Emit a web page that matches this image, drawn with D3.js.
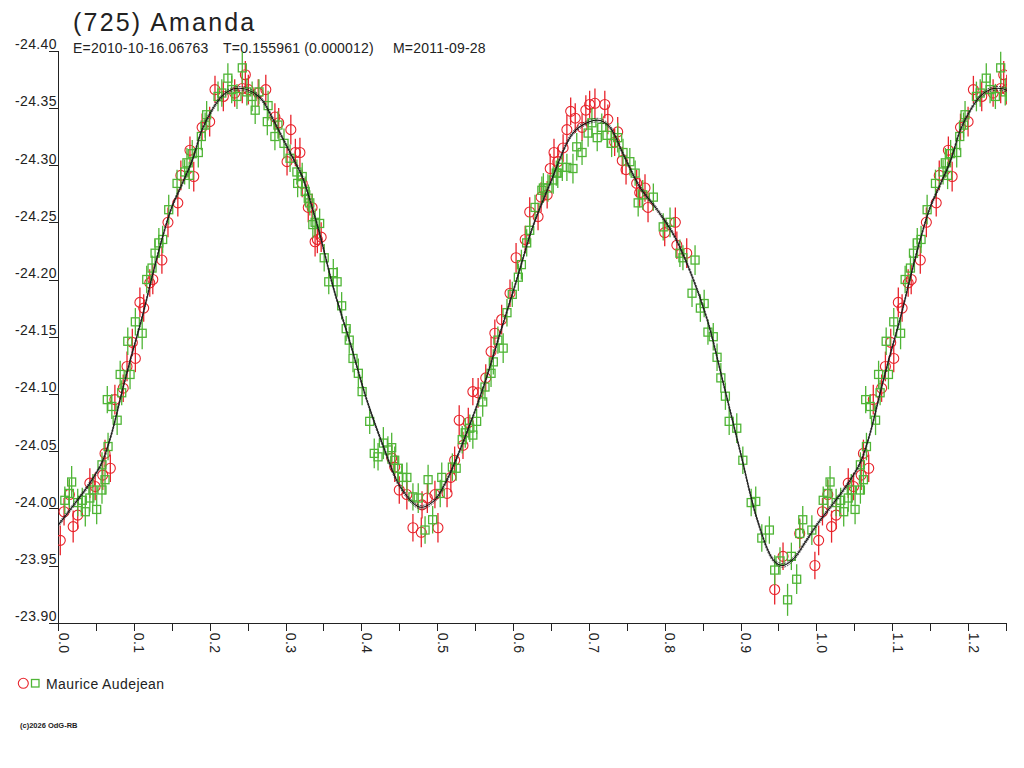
<!DOCTYPE html>
<html>
<head>
<meta charset="utf-8">
<script src="https://cdn.jsdelivr.net/npm/d3@7"></script>
<style>
  body { margin: 0; background: #fff; }
  svg { font-family: "Liberation Sans", Arial, sans-serif; }
</style>
</head>
<body>
<script>
// phase, magnitude, error  -- Maurice Audejean, two sessions (red / green)
const redObs = [
  [0.003,-23.972,.013],[0.008,-23.997,.012],[0.015,-24.012,.013],[0.020,-23.984,.014],[0.026,-23.994,.012],
  [0.042,-24.022,.013],[0.049,-24.019,.012],[0.059,-24.029,.013],[0.062,-24.048,.012],[0.069,-24.035,.012],
  [0.075,-24.095,.013],[0.086,-24.105,.012],[0.091,-24.124,.013],[0.098,-24.145,.012],[0.102,-24.131,.012],
  [0.108,-24.180,.013],[0.113,-24.175,.012],[0.121,-24.197,.012],[0.125,-24.200,.013],[0.137,-24.217,.012],
  [0.145,-24.250,.013],[0.158,-24.267,.012],[0.162,-24.291,.013],[0.174,-24.313,.012],[0.179,-24.290,.013],
  [0.190,-24.333,.012],[0.200,-24.338,.013],[0.207,-24.366,.012],[0.218,-24.360,.013],[0.233,-24.363,.012],
  [0.243,-24.367,.013],[0.247,-24.379,.012],[0.251,-24.366,.013],[0.264,-24.363,.012],[0.274,-24.366,.013],
  [0.286,-24.342,.012],[0.291,-24.337,.013],[0.302,-24.303,.012],[0.307,-24.331,.013],[0.313,-24.311,.012],
  [0.319,-24.311,.013],[0.322,-24.284,.012],[0.330,-24.263,.013],[0.335,-24.263,.012],[0.339,-24.233,.013],
  [0.342,-24.235,.012],[0.347,-24.237,.013],[0.440,-24.044,.012],[0.444,-24.036,.013],[0.450,-24.016,.012],
  [0.460,-24.012,.013],[0.468,-23.983,.012],[0.479,-23.979,.013],[0.480,-24.003,.012],[0.487,-24.009,.013],
  [0.497,-24.012,.012],[0.501,-23.983,.013],[0.513,-24.013,.012],[0.518,-24.027,.013],[0.523,-24.042,.012],
  [0.529,-24.077,.013],[0.534,-24.055,.012],[0.541,-24.075,.013],[0.547,-24.102,.012],[0.554,-24.101,.013],
  [0.564,-24.114,.012],[0.571,-24.137,.013],[0.576,-24.153,.012],[0.585,-24.165,.013],[0.596,-24.188,.012],
  [0.604,-24.219,.013],[0.616,-24.235,.012],[0.622,-24.259,.013],[0.633,-24.255,.012],[0.637,-24.272,.013],
  [0.645,-24.274,.012],[0.649,-24.297,.013],[0.654,-24.311,.012],[0.659,-24.303,.013],[0.666,-24.315,.012],
  [0.671,-24.331,.013],[0.676,-24.347,.012],[0.682,-24.341,.013],[0.691,-24.333,.012],[0.696,-24.348,.013],
  [0.701,-24.353,.012],[0.708,-24.354,.013],[0.721,-24.353,.012],[0.725,-24.340,.013],[0.734,-24.320,.012],
  [0.738,-24.329,.013],[0.744,-24.304,.012],[0.749,-24.296,.013],[0.763,-24.284,.012],[0.767,-24.276,.013],
  [0.774,-24.280,.012],[0.778,-24.263,.013],[0.800,-24.241,.012],[0.814,-24.250,.013],[0.816,-24.230,.012],
  [0.829,-24.223,.013],[0.945,-23.929,.013],[0.956,-23.958,.012],[0.978,-23.978,.013],[0.998,-23.950,.012]
];

const greenObs = [
  [0.009,-24.007,.012],[0.015,-24.013,.013],[0.018,-24.023,.014],[0.026,-24.005,.012],[0.032,-24.007,.011],
  [0.036,-23.997,.013],[0.042,-24.009,.012],[0.046,-24.016,.014],[0.051,-23.999,.013],[0.058,-24.016,.012],
  [0.058,-24.038,.011],[0.062,-24.025,.013],[0.065,-24.095,.012],[0.066,-24.054,.012],[0.071,-24.089,.011],
  [0.078,-24.077,.013],[0.082,-24.117,.012],[0.084,-24.101,.011],[0.092,-24.146,.012],[0.095,-24.117,.013],
  [0.102,-24.163,.012],[0.111,-24.153,.014],[0.117,-24.200,.012],[0.124,-24.210,.011],[0.128,-24.223,.012],
  [0.133,-24.232,.013],[0.138,-24.235,.012],[0.146,-24.261,.013],[0.157,-24.284,.012],[0.167,-24.294,.011],
  [0.170,-24.302,.013],[0.173,-24.291,.012],[0.177,-24.310,.012],[0.185,-24.311,.013],[0.189,-24.325,.012],
  [0.194,-24.335,.011],[0.196,-24.344,.012],[0.211,-24.360,.013],[0.216,-24.363,.012],[0.224,-24.376,.013],
  [0.229,-24.366,.012],[0.236,-24.360,.011],[0.243,-24.385,.014],[0.249,-24.364,.012],[0.256,-24.360,.013],
  [0.260,-24.348,.012],[0.265,-24.364,.011],[0.276,-24.338,.012],[0.277,-24.352,.013],[0.286,-24.325,.012],
  [0.290,-24.335,.012],[0.298,-24.319,.013],[0.306,-24.306,.012],[0.315,-24.294,.011],[0.316,-24.284,.012],
  [0.322,-24.290,.012],[0.326,-24.277,.013],[0.330,-24.271,.012],[0.332,-24.267,.011],[0.336,-24.248,.012],
  [0.339,-24.250,.012],[0.345,-24.249,.013],[0.351,-24.219,.012],[0.357,-24.198,.011],[0.363,-24.206,.012],
  [0.368,-24.198,.013],[0.374,-24.177,.012],[0.380,-24.157,.011],[0.384,-24.147,.012],[0.389,-24.131,.012],
  [0.396,-24.118,.013],[0.401,-24.102,.012],[0.411,-24.076,.011],[0.417,-24.048,.013],[0.422,-24.045,.012],
  [0.429,-24.057,.014],[0.435,-24.051,.012],[0.440,-24.053,.013],[0.444,-24.042,.012],[0.448,-24.035,.011],
  [0.454,-24.027,.012],[0.460,-24.027,.013],[0.468,-24.010,.012],[0.475,-24.009,.013],[0.484,-23.981,.012],
  [0.488,-24.025,.013],[0.494,-23.990,.012],[0.504,-24.013,.012],[0.506,-24.027,.013],[0.520,-24.036,.012],
  [0.525,-24.035,.011],[0.533,-24.060,.012],[0.537,-24.066,.013],[0.543,-24.070,.012],[0.547,-24.064,.012],
  [0.552,-24.076,.011],[0.560,-24.093,.013],[0.563,-24.106,.012],[0.571,-24.118,.012],[0.574,-24.128,.011],
  [0.580,-24.147,.012],[0.587,-24.140,.013],[0.592,-24.171,.012],[0.599,-24.187,.011],[0.607,-24.202,.012],
  [0.611,-24.213,.013],[0.618,-24.232,.012],[0.622,-24.243,.012],[0.629,-24.263,.011],[0.638,-24.278,.012],
  [0.640,-24.280,.013],[0.646,-24.280,.012],[0.653,-24.287,.012],[0.657,-24.293,.011],[0.659,-24.293,.013],
  [0.665,-24.298,.012],[0.671,-24.298,.012],[0.679,-24.297,.013],[0.684,-24.316,.012],[0.691,-24.311,.011],
  [0.699,-24.328,.012],[0.704,-24.337,.013],[0.711,-24.324,.012],[0.717,-24.333,.012],[0.724,-24.326,.011],
  [0.730,-24.319,.012],[0.738,-24.324,.013],[0.745,-24.311,.012],[0.754,-24.303,.012],[0.761,-24.293,.011],
  [0.765,-24.267,.012],[0.771,-24.274,.013],[0.785,-24.272,.012],[0.798,-24.246,.012],[0.807,-24.250,.013],
  [0.820,-24.223,.012],[0.824,-24.219,.011],[0.836,-24.188,.012],[0.840,-24.217,.013],[0.847,-24.175,.012],
  [0.852,-24.179,.012],[0.857,-24.154,.011],[0.864,-24.150,.012],[0.869,-24.132,.012],[0.874,-24.114,.013],
  [0.880,-24.098,.012],[0.885,-24.076,.012],[0.895,-24.070,.013],[0.903,-24.042,.012],[0.914,-24.005,.012],
  [0.920,-24.006,.013],[0.928,-23.974,.012],[0.938,-23.981,.012],[0.945,-23.946,.013],[0.952,-23.954,.012],
  [0.962,-23.920,.014],[0.967,-23.958,.012],[0.974,-23.938,.013],[0.978,-23.978,.012],[0.982,-23.990,.012],
  [0.994,-23.981,.013]
];

// fitted light curve, phase / magnitude
const fitCurve = [
  [0.000,-23.985],[0.022,-24.004],[0.040,-24.020],[0.058,-24.040],[0.071,-24.066],[0.086,-24.106],
  [0.098,-24.136],[0.111,-24.167],[0.124,-24.202],[0.137,-24.235],[0.150,-24.263],[0.164,-24.284],
  [0.177,-24.304],[0.190,-24.331],[0.203,-24.348],[0.216,-24.360],[0.229,-24.366],[0.243,-24.367],
  [0.256,-24.364],[0.269,-24.357],[0.282,-24.342],[0.295,-24.325],[0.309,-24.307],[0.322,-24.290],
  [0.335,-24.263],[0.345,-24.240],[0.363,-24.193],[0.385,-24.145],[0.407,-24.095],[0.429,-24.054],
  [0.451,-24.019],[0.477,-24.001],[0.495,-24.006],[0.513,-24.025],[0.539,-24.066],[0.561,-24.106],
  [0.583,-24.153],[0.605,-24.200],[0.626,-24.246],[0.649,-24.284],[0.679,-24.328],[0.701,-24.338],
  [0.715,-24.339],[0.728,-24.333],[0.745,-24.310],[0.767,-24.281],[0.790,-24.261],[0.811,-24.240],
  [0.833,-24.208],[0.856,-24.165],[0.877,-24.110],[0.899,-24.051],[0.922,-23.990],[0.943,-23.955],
  [0.956,-23.950],[0.970,-23.956],[0.985,-23.970]
];

const xTicks = [0,0.05,0.1,0.15,0.2,0.25,0.3,0.35,0.4,0.45,0.5,0.55,0.6,0.65,0.7,0.75,0.8,0.85,0.9,0.95,1,1.05,1.1,1.15,1.2,1.25];
const yTicks = [-24.40,-24.35,-24.30,-24.25,-24.20,-24.15,-24.10,-24.05,-24.00,-23.95,-23.90];
const phaseMax = 1.25;

const title = '(725) Amanda';
const infoE = 'E=2010-10-16.06763';
const infoT = 'T=0.155961 (0.000012)';
const infoM = 'M=2011-09-28';
const observer = 'Maurice Audejean';
const copyright = '(c)2026 OdG-RB';

const RED = '#e8232b', GREEN = '#4fb536', INK = '#222';

// points before phase 0.25 are repeated after phase 1
function fold(arr){
  return arr.concat(arr.filter(d => d[0] + 1 <= phaseMax + 0.01).map(d => [d[0] + 1, d[1], d[2]]));
}

const svg = d3.select('body').append('svg').attr('width',1024).attr('height',768);
svg.append('rect').attr('width',1024).attr('height',768).attr('fill','#fff');

const x = d3.scaleLinear().domain([0, phaseMax]).range([58, 1006]);
const y = d3.scaleLinear().domain([-24.40, -23.90]).range([50.7, 622.7]);

svg.append('clipPath').attr('id','plotclip').append('rect')
  .attr('x',58).attr('y',40).attr('width',949).attr('height',590);

// titles
svg.append('text').text(title).attr('x',73).attr('y',31)
  .attr('font-size',25).attr('letter-spacing',2.2).attr('fill',INK);
[[infoE,73],[infoT,223],[infoM,393]].forEach(([t,px]) => {
  svg.append('text').text(t).attr('x',px).attr('y',53)
    .attr('font-size',14).attr('letter-spacing',0.2).attr('fill',INK);
});

// axes
const yAxis = d3.axisLeft(y).tickValues(yTicks).tickSize(9).tickSizeOuter(0).tickFormat(d => d.toFixed(2));
const yAxisG = svg.append('g').attr('transform','translate(58,0)').call(yAxis);
yAxisG.selectAll('.tick text').attr('x',-1).attr('y',-2).attr('dy',0)
  .attr('font-size',14).attr('letter-spacing',0.4).attr('fill',INK).attr('font-family','Liberation Sans, Arial');

const xAxis = d3.axisBottom(x).tickValues(xTicks).tickSize(8).tickSizeOuter(0)
  .tickFormat(d => Math.abs(d*10 - Math.round(d*10)) < 1e-6 ? d.toFixed(1) : '');
const xAxisG = svg.append('g').attr('transform','translate(0,622.7)').call(xAxis);
xAxisG.selectAll('.tick text').attr('transform','rotate(90)').attr('x',10).attr('y',0).attr('dy',0)
  .attr('text-anchor','start').attr('font-size',14).attr('letter-spacing',0.4)
  .attr('fill',INK).attr('font-family','Liberation Sans, Arial');

[yAxisG, xAxisG].forEach(g => {
  g.select('.domain').attr('stroke',INK).attr('shape-rendering','crispEdges');
  g.selectAll('.tick line').attr('stroke',INK).attr('shape-rendering','crispEdges');
});

// observations
const plot = svg.append('g').attr('clip-path','url(#plotclip)');

function drawSeries(data, color, shape){
  const g = plot.append('g');
  g.selectAll('line').data(data).enter().append('line')
    .attr('x1', d => x(d[0])).attr('x2', d => x(d[0]))
    .attr('y1', d => y(d[1] - d[2])).attr('y2', d => y(d[1] + d[2]))
    .attr('stroke', color).attr('stroke-width',1.3);
  if (shape === 'circle') {
    g.selectAll('circle').data(data).enter().append('circle')
      .attr('cx', d => x(d[0])).attr('cy', d => y(d[1])).attr('r',5)
      .attr('fill','none').attr('stroke',color).attr('stroke-width',1.1);
  } else {
    g.selectAll('rect').data(data).enter().append('rect')
      .attr('x', d => x(d[0]) - 4).attr('y', d => y(d[1]) - 4)
      .attr('width',8).attr('height',8)
      .attr('fill','none').attr('stroke',color).attr('stroke-width',1.3);
  }
}
drawSeries(fold(redObs), RED, 'circle');
drawSeries(fold(greenObs), GREEN, 'square');

// fitted curve (drawn as a narrow band of three lines)
const fitLine = d3.line().x(d => x(d[0])).y(d => y(d[1])).curve(d3.curveCatmullRom);
const fitData = fold(fitCurve.map(d => [d[0], d[1], 0])).sort((a,b) => a[0]-b[0]);
[-1.8, 0, 1.8].forEach(off => {
  plot.append('path').datum(fitData).attr('d', fitLine)
    .attr('transform', `translate(0,${off})`)
    .attr('fill','none').attr('stroke', off === 0 ? '#111' : '#333')
    .attr('stroke-width', off === 0 ? 1.1 : 0.8)
    .attr('stroke-dasharray', off === 0 ? null : '2,1');
});

// legend
svg.append('circle').attr('cx',23.3).attr('cy',683.3).attr('r',5)
  .attr('fill','none').attr('stroke',RED).attr('stroke-width',1.1);
svg.append('rect').attr('x',31.5).attr('y',679.5).attr('width',7.5).attr('height',7.5)
  .attr('fill','none').attr('stroke',GREEN).attr('stroke-width',1.3);
svg.append('text').text(observer).attr('x',46).attr('y',688.5)
  .attr('font-size',14).attr('letter-spacing',0.4).attr('fill',INK);

svg.append('text').text(copyright).attr('x',20).attr('y',727.5)
  .attr('font-size',7.5).attr('font-weight','bold').attr('fill',INK);
</script>
</body>
</html>
